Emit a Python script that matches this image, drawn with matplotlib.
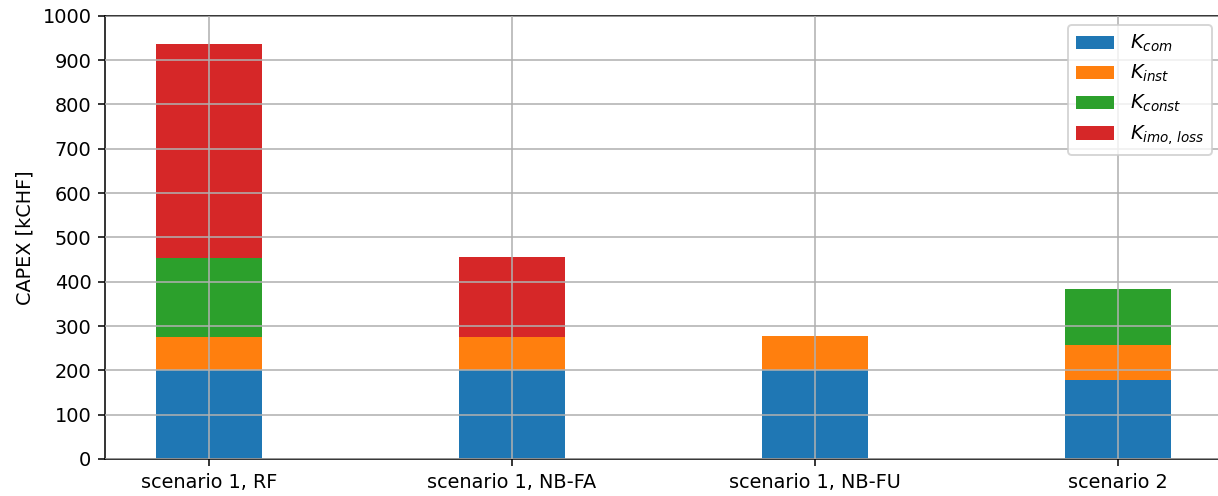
import matplotlib
matplotlib.use("Agg")
import matplotlib.pyplot as plt
import numpy as np

scenarios = ["scenario 1, RF", "scenario 1, NB-FA", "scenario 1, NB-FU", "scenario 2"]
k_com = [200, 200, 200, 178]
k_inst = [75, 75, 77, 80]
k_const = [179, 0, 0, 126]
k_imo_loss = [482, 180, 0, 0]

labels = [r"$K_{com}$", r"$K_{inst}$", r"$K_{const}$", r"$K_{imo,\, loss}$"]
colors = ["#1f77b4", "#ff7f0e", "#2ca02c", "#d62728"]

DPI = 139
W, H = 1218, 496
fig = plt.figure(figsize=(W / DPI, H / DPI), dpi=DPI)
ax = fig.add_axes([105 / W, 1 - 459 / H, 1 - 105 / W + 0.003, (459 - 15.7) / H])

x = np.arange(len(scenarios))
width = 0.35
bottom = np.zeros(len(scenarios))
for vals, lab, col in zip([k_com, k_inst, k_const, k_imo_loss], labels, colors):
    vals = np.array(vals, dtype=float)
    ax.bar(x, vals, width, bottom=bottom, label=lab, color=col)
    bottom += vals

ax.set_xticks(x)
ax.set_xticklabels(scenarios)
ax.set_ylim(0, 1000)
ax.set_yticks(np.arange(0, 1001, 100))
ax.set_ylabel("CAPEX [kCHF]")
ax.grid(True, color="#b0b0b0")
ax.set_axisbelow(False)
ax.legend(loc="upper right", labelspacing=0.45)

fig.savefig("out.png", dpi=DPI)
